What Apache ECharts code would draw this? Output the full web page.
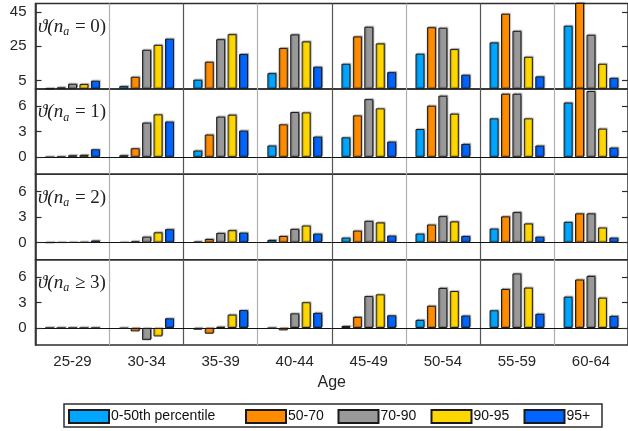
<!DOCTYPE html>
<html>
<head>
<meta charset="utf-8">
<script src="https://cdn.jsdelivr.net/npm/echarts@6/dist/echarts.min.js"></script>
<style>
  html, body { margin: 0; padding: 0; background: #fff; }
  #chart { width: 628px; height: 431px; }
</style>
</head>
<body>
<div id="chart"></div>
<script>
// Age groups along the x axis
const ages = ['25-29', '30-34', '35-39', '40-44', '45-49', '50-54', '55-59', '60-64'];
// Income-percentile groups (one bar each per age group)
const groupNames = ['0-50th percentile', '50-70', '70-90', '90-95', '95+'];
const groupColors = ['#00A5FF', '#FF8C00', '#999999', '#FFD700', '#0064FF'];

// Panel labels
const panelLabels = ['0)', '1)', '2)', '3)'];
const panelRelations = ['=', '=', '=', '\u2265'];

// ϑ(n_a = 0)
const na0_p0_50  = [0.2, 1.6, 5.4, 9.2, 14.7, 20.6, 27.2, 37.0];
const na0_p50_70 = [0.9, 7.1, 15.9, 23.9, 30.7, 36.1, 44.0, 52.0];
const na0_p70_90 = [3.0, 22.9, 29.1, 31.9, 36.4, 35.8, 34.0, 31.7];
const na0_p90_95 = [2.8, 25.8, 32.0, 27.8, 26.6, 23.3, 18.8, 14.7];
const na0_p95    = [4.8, 29.4, 20.4, 13.0, 9.8, 8.3, 7.3, 6.5];

// ϑ(n_a = 1)
const na1_p0_50  = [0.0, 0.23, 0.78, 1.37, 2.33, 3.3, 4.55, 6.4];
const na1_p50_70 = [0.05, 1.05, 2.65, 3.85, 4.9, 6.03, 7.43, 8.5];
const na1_p70_90 = [0.23, 4.05, 4.75, 5.29, 6.8, 7.2, 7.43, 7.75];
const na1_p90_95 = [0.27, 5.02, 4.98, 5.25, 5.72, 5.1, 4.55, 3.35];
const na1_p95    = [0.93, 4.17, 3.12, 2.41, 1.83, 1.55, 1.37, 1.13];

// ϑ(n_a = 2)
const na2_p0_50  = [0.0, 0.03, 0.12, 0.31, 0.59, 1.06, 1.65, 2.43];
const na2_p50_70 = [0.02, 0.15, 0.43, 0.78, 1.41, 2.12, 3.07, 3.42];
const na2_p70_90 = [0.03, 0.7, 1.14, 1.61, 2.55, 3.1, 3.57, 3.42];
const na2_p90_95 = [0.06, 1.2, 1.45, 2.0, 2.36, 2.48, 2.24, 1.77];
const na2_p95    = [0.24, 1.57, 1.18, 1.06, 0.83, 0.78, 0.7, 0.59];

// ϑ(n_a ≥ 3)
const na3_p0_50  = [0.0, -0.05, -0.2, -0.03, 0.23, 0.95, 2.08, 3.67];
const na3_p50_70 = [0.0, -0.4, -0.67, -0.28, 1.3, 2.6, 4.57, 5.68];
const na3_p70_90 = [0.0, -1.42, 0.15, 1.72, 3.74, 4.69, 6.39, 6.1];
const na3_p90_95 = [0.0, -0.99, 1.57, 3.02, 3.94, 4.33, 4.73, 3.55];
const na3_p95    = [0.0, 1.14, 2.1, 1.77, 1.49, 1.46, 1.66, 1.42];

// Y-axis tick labels per panel
const ticksTop = [5, 25, 45];
const ticksLower = [0, 3, 6];

const panels = [
  [na0_p0_50, na0_p50_70, na0_p70_90, na0_p90_95, na0_p95],
  [na1_p0_50, na1_p50_70, na1_p70_90, na1_p90_95, na1_p95],
  [na2_p0_50, na2_p50_70, na2_p70_90, na2_p90_95, na2_p95],
  [na3_p0_50, na3_p50_70, na3_p70_90, na3_p90_95, na3_p95]
];
const yRanges = [[0, 50], [-2, 8], [-2, 8], [-2, 8]];
const yTicks = [ticksTop, ticksLower, ticksLower, ticksLower];

// layout
const GRID_LEFT = 35.5, GRID_WIDTH = 596, GRID_TOP = 3.5, PANEL_H = 85.4;
const FONT = "'Liberation Sans', Arial, sans-serif";
const MATH = "'Liberation Serif', 'DejaVu Serif', serif";
const INK = '#262626';

const grids = [], xAxes = [], yAxes = [], series = [], graphics = [];

panels.forEach((groups, p) => {
  const top = GRID_TOP + p * PANEL_H;
  grids.push({
    left: GRID_LEFT, width: GRID_WIDTH, top: top, height: PANEL_H,
    show: true, borderColor: '#2e2e2e', borderWidth: 1.5, backgroundColor: 'transparent'
  });
  const last = p === panels.length - 1;
  xAxes.push({
    type: 'category', gridIndex: p, data: ages,
    axisLine: { show: p > 0, onZero: true, lineStyle: { color: '#111', width: 1 } },
    axisTick: { show: false },
    axisLabel: { show: last, fontFamily: FONT, fontSize: 15, color: INK, margin: 9 },
    splitLine: { show: true, lineStyle: { color: ['#555555', '#b0b0b0'], width: 1.2 } },
    name: last ? 'Age' : '', nameLocation: 'middle', nameGap: 29,
    nameTextStyle: { fontFamily: FONT, fontSize: 16, color: INK }
  });
  const [mn, mx] = yRanges[p];
  // left axis with labels
  yAxes.push({
    type: 'value', gridIndex: p, min: mn, max: mx, position: 'left',
    axisLine: { show: true, lineStyle: { color: '#2e2e2e', width: 1.5 } },
    axisTick: { show: true, inside: true, length: 6, customValues: yTicks[p], lineStyle: { color: '#2e2e2e', width: 1.2 } },
    axisLabel: { show: true, customValues: yTicks[p], fontFamily: FONT, fontSize: 15, color: INK, margin: 9 },
    splitLine: { show: false }
  });
  // mirrored right axis (ticks only)
  yAxes.push({
    type: 'value', gridIndex: p, min: mn, max: mx, position: 'right',
    axisLine: { show: false },
    axisTick: { show: true, inside: true, length: 6, customValues: yTicks[p], lineStyle: { color: '#2e2e2e', width: 1.2 } },
    axisLabel: { show: false },
    splitLine: { show: false }
  });
  groups.forEach((values, g) => {
    series.push({
      type: 'bar', name: groupNames[g],
      xAxisIndex: p, yAxisIndex: p * 2,
      data: values, barWidth: 9, barGap: '27%', clip: true,
      itemStyle: {
        color: groupColors[g], borderColor: '#1a1a1a', borderWidth: 1,
        shadowColor: 'rgba(0,0,0,0.3)', shadowBlur: 1, shadowOffsetX: 1, shadowOffsetY: -1
      },
      emphasis: { disabled: true }
    });
  });
  // panel label ϑ(n_a = k)
  graphics.push({
    type: 'text', left: 38, top: top + 14, z: 100,
    style: {
      text: '{g|\u03D1(}{i|n}{s|a}{t| ' + panelRelations[p] + ' ' + panelLabels[p] + '}',
      fill: '#222',
      rich: {
        g: { fontFamily: MATH, fontSize: 19, fontStyle: 'italic', fill: '#222' },
        i: { fontFamily: MATH, fontSize: 19, fontStyle: 'italic', fill: '#222' },
        s: { fontFamily: MATH, fontSize: 12, fontStyle: 'italic', fill: '#222', padding: [10, 1, 0, 0] },
        t: { fontFamily: MATH, fontSize: 19, fill: '#222' }
      }
    }
  });
});

// legend frame
graphics.push({
  type: 'rect', shape: { x: 64, y: 404, width: 538, height: 23 },
  style: { fill: '#fff', stroke: '#2e2e2e', lineWidth: 1.5 }, z: -1
});

const legendLefts = [68, 245, 337.5, 430.5, 523.5];
const legends = groupNames.map((name, i) => ({
  left: legendLefts[i], top: 409, padding: 0, itemGap: 0,
  itemWidth: 40, itemHeight: 13, selectedMode: false,
  textStyle: { fontFamily: FONT, fontSize: 14, color: '#111', padding: [0, 0, 0, -3] },
  data: [{ name: name, icon: 'rect' }]
}));

const chart = echarts.init(document.getElementById('chart'), null, { renderer: 'canvas' });
chart.setOption({
  backgroundColor: '#fff',
  animation: false,
  grid: grids,
  xAxis: xAxes,
  yAxis: yAxes,
  legend: legends,
  series: series,
  graphic: graphics
});
</script>
</body>
</html>
